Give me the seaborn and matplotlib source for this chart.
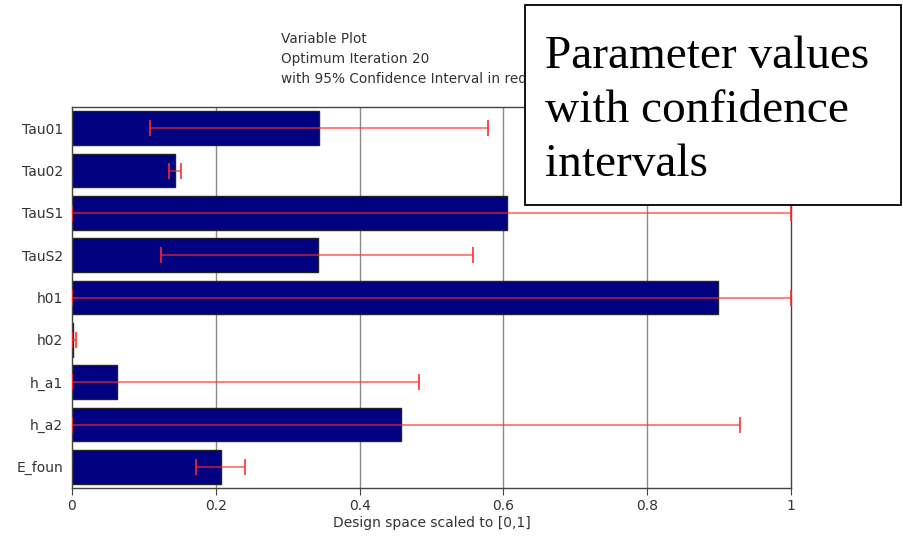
import matplotlib
matplotlib.use("Agg")
import matplotlib.pyplot as plt
import seaborn as sns
import numpy as np
import pandas as pd

params = ["Tau01", "Tau02", "TauS1", "TauS2", "h01", "h02", "h_a1", "h_a2", "E_foun"]
values = [0.343, 0.143, 0.605, 0.342, 0.898, 0.001, 0.063, 0.458, 0.207]
ci_low = [0.108, 0.135, 0.0, 0.124, 0.0, 0.0, 0.0, 0.0, 0.173]
ci_high = [0.578, 0.151, 1.0, 0.558, 1.0, 0.006, 0.482, 0.929, 0.240]
xticks = [0, 0.2, 0.4, 0.6, 0.8, 1]
xtick_labels = ["0", "0.2", "0.4", "0.6", "0.8", "1"]
title_lines = ["Variable Plot", "Optimum Iteration 20", "with 95% Confidence Interval in red"]
xlabel = "Design space scaled to [0,1]"
box_lines = ["Parameter values", "with confidence", "intervals"]

sns.set_style("white")
plt.rcParams["font.family"] = ["DejaVu Sans"]

fig = plt.figure(figsize=(9.04, 5.41), dpi=100)
ax = fig.add_axes([72/904, 1-488/541, (791-72)/904, (488-107)/541])

df = pd.DataFrame({"param": params, "value": values})
sns.barplot(data=df, x="value", y="param", orient="h", color="#000080",
            saturation=1, edgecolor="#222222", linewidth=1, width=0.8, ax=ax, zorder=2)

vals = np.array(values)
lo = vals - np.array(ci_low)
hi = np.array(ci_high) - vals
eb = ax.errorbar(vals, np.arange(len(params)), xerr=[lo, hi], fmt="none",
                 ecolor="#ff2a2a", elinewidth=1.4, capsize=6, capthick=1.3, zorder=3)
_, caps, bars = eb
for b in bars:
    b.set_alpha(0.6)
for c in caps:
    c.set_alpha(0.9)

ax.set_xlim(0, 1)
ax.set_ylim(len(params) - 0.5, -0.5)
ax.set_xticks(xticks)
ax.set_xticklabels(xtick_labels)
for x in xticks[1:-1]:
    ax.axvline(x, color="#8a8a8a", lw=1, zorder=1)
for s in ax.spines.values():
    s.set_color("#444444")
    s.set_linewidth(1)
ax.tick_params(axis="x", bottom=True, length=5, color="#444444", labelsize=10, labelcolor="#333333", pad=3)
ax.tick_params(axis="y", left=False, labelsize=10, labelcolor="#333333", pad=3)
ax.set_ylabel("")
ax.set_xlabel(xlabel, fontsize=10, color="#333333", labelpad=2)

for i, line in enumerate(title_lines):
    fig.text(281/904, 1-(43+20*i)/541, line, ha="left", va="baseline",
             fontsize=9.8, color="#333333")

rect = plt.Rectangle((525/904, 1-205/541), (901-525)/904, (205-5)/541,
                     transform=fig.transFigure, fc="white", ec="black", lw=1.3, zorder=5)
fig.patches.append(rect)
for i, line in enumerate(box_lines):
    fig.text(545/904, 1-(68+54*i)/541, line, ha="left", va="baseline",
             family="Liberation Serif", fontsize=34, color="black", zorder=6)

fig.savefig("out.png", dpi=100)
